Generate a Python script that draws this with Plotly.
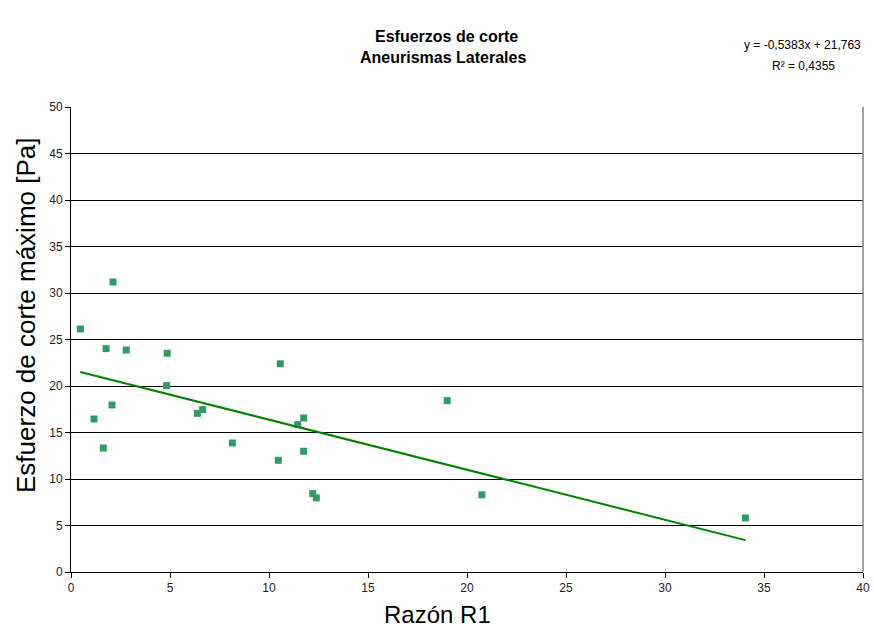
import plotly.graph_objects as go

# Razón R1 vs esfuerzo de corte máximo (aneurismas laterales)
razon_r1 = [0.47, 2.12, 1.77, 2.79, 4.86, 4.83, 1.16, 2.07, 1.63, 6.38, 6.65,
            8.15, 10.47, 10.57, 11.45, 11.75, 11.75, 12.21, 12.39, 19.0, 20.75, 34.06]
esfuerzo = [26.13, 31.18, 24.02, 23.87, 23.52, 20.04, 16.45, 17.96, 13.33, 17.06, 17.46,
            13.87, 12.01, 22.39, 15.85, 16.56, 12.98, 8.43, 7.96, 18.43, 8.30, 5.81]

# Linear trend line coefficients (as printed in the equation)
slope = -0.5383
intercept = 21.763
r2 = 0.4355

x_ticks = [0, 5, 10, 15, 20, 25, 30, 35, 40]
y_ticks = [0, 5, 10, 15, 20, 25, 30, 35, 40, 45, 50]

x_min, x_max = min(razon_r1), max(razon_r1)
trend_x = [x_min, x_max]
trend_y = [slope * v + intercept for v in trend_x]

font_family = "Liberation Sans, Arial, sans-serif"

# plot area in pixels (for placing paper-referenced text)
L, R, T, B = 71, 863, 107, 572
PW, PH = R - L, B - T


def px(x):
    return (x - L) / PW


def py(y):
    return (B - y) / PH


fig = go.Figure()
fig.add_trace(go.Scatter(
    x=razon_r1, y=esfuerzo, mode="markers",
    marker=dict(symbol="square", size=7, color="#339966",
                line=dict(width=0)),
    showlegend=False, cliponaxis=False,
))
fig.add_trace(go.Scatter(
    x=trend_x, y=trend_y, mode="lines",
    line=dict(color="#008000", width=2),
    showlegend=False,
))

fig.update_layout(
    width=874, height=628,
    margin=dict(l=L, r=874 - R, t=T, b=628 - B),
    paper_bgcolor="white", plot_bgcolor="white",
    font=dict(family=font_family, color="#000000"),
    xaxis=dict(
        range=[0, 40], tickvals=x_ticks, ticktext=[str(v) for v in x_ticks],
        showgrid=False, zeroline=False, automargin=False,
        showline=True, linecolor="#000000", linewidth=1,
        ticks="outside", ticklen=5, tickcolor="#000000", tickwidth=1,
        tickfont=dict(size=12, color="#222222"),
    ),
    yaxis=dict(
        range=[0, 50], tickvals=y_ticks, ticktext=[str(v) for v in y_ticks],
        showgrid=True, gridcolor="#000000", gridwidth=1, zeroline=False,
        automargin=False,
        showline=True, linecolor="#000000", linewidth=1,
        ticks="outside", ticklen=5, tickcolor="#000000", tickwidth=1,
        tickfont=dict(size=12, color="#222222"),
    ),
    shapes=[
        dict(type="line", xref="paper", yref="paper", x0=1, x1=1, y0=0, y1=1,
             line=dict(color="#808080", width=1.5)),
    ],
    annotations=[
        dict(text="<b>Esfuerzos de corte</b>",
             xref="paper", yref="paper", x=px(446), y=py(36),
             xanchor="center", yanchor="middle", showarrow=False,
             font=dict(size=16, family=font_family)),
        dict(text="<b>Aneurismas Laterales</b>",
             xref="paper", yref="paper", x=px(443), y=py(58),
             xanchor="center", yanchor="middle", showarrow=False,
             font=dict(size=16, family=font_family)),
        dict(text=f"y = {slope:.4f}x + {intercept:.3f}".replace(".", ","),
             xref="paper", yref="paper", x=px(863), y=py(45),
             xanchor="right", yanchor="middle", showarrow=False,
             font=dict(size=12, family=font_family)),
        dict(text=f"R² = {r2:.4f}".replace(".", ","),
             xref="paper", yref="paper", x=px(803), y=py(66),
             xanchor="center", yanchor="middle", showarrow=False,
             font=dict(size=12, family=font_family)),
        dict(text="Esfuerzo de corte máximo [Pa]",
             xref="paper", yref="paper", x=px(26), y=py(316),
             xanchor="center", yanchor="middle", textangle=-90, showarrow=False,
             font=dict(size=26, family=font_family)),
        dict(text="Razón R1",
             xref="paper", yref="paper", x=px(437), y=py(614),
             xanchor="center", yanchor="middle", showarrow=False,
             font=dict(size=24, family=font_family)),
    ],
)

fig.write_html("out.html")
